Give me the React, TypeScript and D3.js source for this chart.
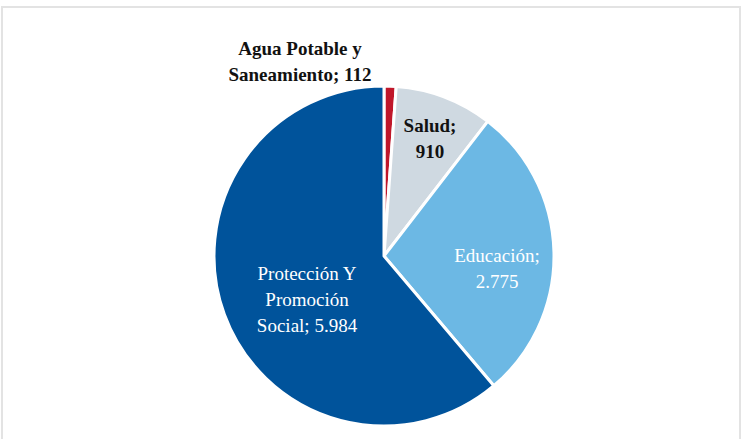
import React from "react";
import * as d3 from "d3";

const categories = [
  "Agua Potable y Saneamiento",
  "Salud",
  "Educación",
  "Protección Y Promoción Social",
];
const values = [112, 910, 2775, 5984];
const labelLines = [
  ["Agua Potable y", "Saneamiento; 112"],
  ["Salud;", "910"],
  ["Educación;", "2.775"],
  ["Protección Y", "Promoción", "Social; 5.984"],
];
const colors = ["#C0172A", "#CFD9E1", "#6CB8E4", "#00539B"];
const textColors = ["#111", "#111", "#fff", "#fff"];
const textWeights = ["bold", "bold", "normal", "normal"];
// label anchor relative to pie centre (first baseline)
const labelPos: [number, number][] = [
  [-84, -201],
  [46, -124],
  [113, 6],
  [-77, 24],
];

const FONT = '"Liberation Serif", "Times New Roman", Tinos, "DejaVu Serif", serif';

export default function App() {
  const width = 743;
  const height = 439;
  const cx = 384;
  const cy = 256;
  const r = 170;
  const lineH = 26;

  const pie = d3.pie<number>().sort(null).value((d) => d);
  const arcs = pie(values);
  const arc = d3.arc<d3.PieArcDatum<number>>().innerRadius(0).outerRadius(r);

  return (
    <svg
      width={width}
      height={height}
      style={{ position: "absolute", left: 0, top: 0, fontFamily: FONT }}
    >
      <rect width={width} height={height} fill="#fff" />
      <path
        d={`M2,${height} V7 H740 V${height}`}
        fill="none"
        stroke="#e3e3e3"
        strokeWidth={2}
      />
      <g transform={`translate(${cx},${cy})`}>
        {arcs.map((a, i) => (
          <path
            key={categories[i]}
            d={arc(a) || ""}
            fill={colors[i]}
            stroke="#fff"
            strokeWidth={3}
            strokeLinejoin="round"
          />
        ))}
        {labelLines.map((lines, i) => (
          <text
            key={categories[i]}
            x={labelPos[i][0]}
            y={labelPos[i][1]}
            textAnchor="middle"
            fontFamily={FONT}
            fontSize={19}
            fontWeight={textWeights[i]}
            fill={textColors[i]}
          >
            {lines.map((l, j) => (
              <tspan key={j} x={labelPos[i][0]} dy={j === 0 ? 0 : lineH}>
                {l}
              </tspan>
            ))}
          </text>
        ))}
      </g>
    </svg>
  );
}
